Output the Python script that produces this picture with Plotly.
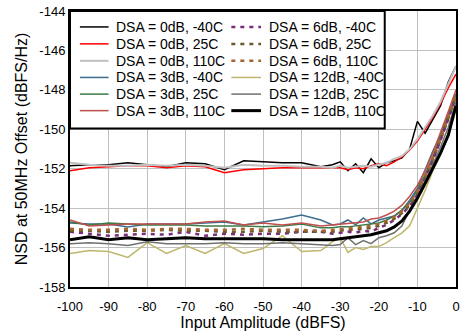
import plotly.graph_objects as go

x_dbfs = [-100, -95, -90, -85, -80, -75, -70, -65, -60, -55, -50, -45, -40, -35, -32,
          -30, -28, -26, -24, -22, -20, -18, -16, -14, -12, -10, -8, -6, -4, -2, 0]

dsa0_m40 = [-151.85, -151.8, -151.8, -151.7, -151.8, -151.9, -151.7, -151.75, -152.05, -151.6,
            -151.65, -151.7, -151.7, -151.9, -151.8, -151.65, -152.1, -151.75, -152.2, -151.5,
            -151.95, -151.7, -151.6, -151.45, -151.0, -149.6, -150.2, -149.5, -148.8, -147.6, -146.8]
dsa0_25 = [-152.1, -151.95, -151.9, -151.85, -151.85, -151.95, -151.85, -151.9, -152.2, -152.05,
           -152.0, -151.95, -151.95, -151.95, -151.95, -151.95, -152.05, -151.95, -152.0, -151.85,
           -151.75, -151.85, -151.65, -151.4, -151.05, -150.6, -150.0, -149.4, -148.7, -147.9, -147.2]
dsa0_110 = [-151.7, -151.8, -151.85, -151.85, -151.8, -151.85, -151.8, -151.85, -151.95, -151.8,
            -151.85, -151.85, -151.9, -151.9, -151.95, -151.85, -151.95, -151.9, -151.85, -151.9,
            -151.8, -151.7, -151.5, -151.35, -151.0, -150.5, -149.9, -149.3, -148.6, -147.7, -146.8]
dsa3_m40 = [-154.75, -154.8, -154.8, -154.95, -154.8, -154.8, -154.8, -154.75, -154.7, -154.85,
            -154.7, -154.55, -154.35, -154.6, -154.85, -154.8, -154.6, -154.85, -154.5, -154.8,
            -154.6, -154.5, -154.4, -154.1, -153.6, -153.0, -152.0, -151.1, -150.3, -149.3, -148.2]
dsa3_25 = [-154.7, -154.85, -154.75, -154.8, -154.85, -154.85, -154.85, -154.9, -154.9, -154.9,
           -154.95, -154.9, -154.8, -155.0, -155.0, -154.95, -154.95, -154.9, -154.85, -154.8,
           -154.75, -154.6, -154.4, -154.1, -153.7, -153.1, -152.3, -151.4, -150.4, -149.3, -148.2]
dsa3_110 = [-154.6, -154.9, -154.85, -154.8, -154.8, -154.8, -154.8, -154.7, -154.65, -154.85,
            -154.75, -154.85, -154.75, -154.9, -154.85, -154.8, -154.8, -154.75, -154.7, -154.55,
            -154.5, -154.35, -154.15, -153.85, -153.4, -152.85, -152.1, -151.2, -150.2, -149.1, -148.0]
dsa6_m40 = [-155.2, -155.3, -155.4, -155.35, -155.3, -155.35, -155.2, -155.4, -155.3, -155.35,
            -155.3, -155.3, -155.2, -155.2, -155.3, -155.25, -155.2, -155.25, -155.15, -155.2,
            -155.0, -154.85, -154.6, -154.3, -153.9, -153.3, -152.5, -151.6, -150.6, -149.5, -148.4]
dsa6_25 = [-155.15, -155.15, -155.2, -155.15, -155.15, -155.1, -155.15, -155.15, -155.2, -155.2,
           -155.15, -155.2, -155.2, -155.2, -155.2, -155.15, -155.1, -155.1, -155.05, -155.0,
           -154.9, -154.75, -154.55, -154.25, -153.85, -153.25, -152.45, -151.55, -150.55, -149.45, -148.35]
dsa6_110 = [-155.05, -155.1, -155.1, -155.05, -155.1, -155.05, -155.05, -155.1, -155.1, -155.05,
            -155.1, -155.1, -155.1, -155.15, -155.1, -155.1, -155.05, -155.0, -154.95, -154.9,
            -154.8, -154.65, -154.45, -154.15, -153.75, -153.15, -152.35, -151.45, -150.45, -149.35, -148.3]
dsa12_m40 = [-156.3, -156.15, -156.2, -156.5, -155.75, -156.3, -155.9, -156.3, -155.8, -156.3,
             -156.05, -155.4, -156.2, -156.15, -155.7, -155.5, -156.25, -156.0, -156.1, -155.95,
             -155.95, -155.75, -155.5, -155.25, -154.9, -154.0, -153.1, -152.1, -151.3, -150.2, -149.0]
dsa12_25 = [-155.8, -155.75, -155.8, -155.9, -155.7, -155.8, -155.8, -155.8, -155.75, -155.8,
            -155.8, -155.75, -155.8, -155.85, -155.9, -155.85, -155.5, -155.85, -155.65, -155.8,
            -155.5, -155.4, -155.25, -154.9, -154.1, -153.4, -152.6, -151.8, -150.9, -149.9, -148.6]
dsa12_110 = [-155.6, -155.45, -155.6, -155.5, -155.6, -155.55, -155.5, -155.55, -155.55, -155.55,
             -155.55, -155.6, -155.6, -155.6, -155.6, -155.55, -155.5, -155.45, -155.4, -155.35,
             -155.25, -155.15, -154.95, -154.65, -154.15, -153.5, -152.75, -152.0, -151.2, -150.3, -148.8]

series_names = ["DSA = 0dB, -40C", "DSA = 0dB, 25C", "DSA = 0dB, 110C",
                "DSA = 3dB, -40C", "DSA = 3dB, 25C", "DSA = 3dB, 110C",
                "DSA = 6dB, -40C", "DSA = 6dB, 25C", "DSA = 6dB, 110C",
                "DSA = 12dB, -40C", "DSA = 12dB, 25C", "DSA = 12dB, 110C"]
series_values = [dsa0_m40, dsa0_25, dsa0_110, dsa3_m40, dsa3_25, dsa3_110,
                 dsa6_m40, dsa6_25, dsa6_110, dsa12_m40, dsa12_25, dsa12_110]

x_ticks = [-100, -90, -80, -70, -60, -50, -40, -30, -20, -10, 0]
y_ticks = [-158, -156, -154, -152, -150, -148, -146, -144]

styles = [
    dict(color="#000000", width=1.5),
    dict(color="#ff0000", width=1.5),
    dict(color="#c0c0c0", width=2),
    dict(color="#3b6e8f", width=1.5),
    dict(color="#3d7a47", width=1.5),
    dict(color="#c0504d", width=1.5),
    dict(color="#7b2c7b", width=2.5, dash="4px,5px"),
    dict(color="#6b5a30", width=2.5, dash="4px,5px"),
    dict(color="#a8642e", width=2.5, dash="4px,5px"),
    dict(color="#bdb76b", width=1.5),
    dict(color="#707070", width=1.5),
    dict(color="#000000", width=3),
]

W, H = 464, 333
ML, MT = 70, 10
MR = W - 460
MB = H - 287
PW, PH = W - ML - MR, H - MT - MB

fig = go.Figure()
for name, vals, st in zip(series_names, series_values, styles):
    fig.add_trace(go.Scatter(x=x_dbfs, y=vals, mode="lines", name=name,
                             line=st, showlegend=False))

font = "Liberation Sans, Arial, sans-serif"


def px(xpage):
    return (xpage - ML) / PW


def py(ypage):
    return 1 - (ypage - MT) / PH


shapes = [dict(type="rect", xref="paper", yref="paper", x0=px(70), x1=px(388),
               y0=py(128), y1=py(10), fillcolor="white",
               line=dict(color="#000000", width=2), layer="above")]
annotations = []
row_y = [26, 43, 60, 76.7, 93.4, 110]
col_line = [(80, 109), (233, 263)]
col_text = [114, 269]
for i, (name, st) in enumerate(zip(series_names, styles)):
    col, row = divmod(i, 6)
    yc = row_y[row]
    ln = dict(color=st["color"], width=st["width"])
    if "dash" in st:
        ln["dash"] = st["dash"]
    shapes.append(dict(type="line", xref="paper", yref="paper",
                       x0=px(col_line[col][0]), x1=px(col_line[col][1]),
                       y0=py(yc), y1=py(yc), line=ln, layer="above"))
    annotations.append(dict(text=name, xref="paper", yref="paper",
                            x=px(col_text[col]), y=py(yc), xanchor="left",
                            yanchor="middle", showarrow=False,
                            font=dict(family=font, size=14, color="#000000")))

fig.update_layout(
    width=W, height=H,
    margin=dict(l=ML, r=MR, t=MT, b=MB),
    paper_bgcolor="white", plot_bgcolor="white",
    font=dict(family=font, size=13, color="#000000"),
    showlegend=False,
    shapes=shapes, annotations=annotations,
    xaxis=dict(range=[-100, 0], tickvals=x_ticks, ticktext=[str(v) for v in x_ticks],
               showgrid=True, gridcolor="#bfbfbf", gridwidth=1,
               showline=True, linecolor="#000000", linewidth=2, mirror=True,
               ticks="", zeroline=False, ticklabelstandoff=6,
               ticklabeloverflow="allow",
               title=dict(text="Input Amplitude (dBFS)", standoff=0)),
    yaxis=dict(range=[-158, -144], tickvals=y_ticks, ticktext=[str(v) for v in y_ticks],
               showgrid=True, gridcolor="#bfbfbf", gridwidth=1,
               showline=True, linecolor="#000000", linewidth=2, mirror=True,
               ticks="", zeroline=False, ticklabeloverflow="allow",
               title=dict(text="NSD at 50MHz Offset (dBFS/Hz)", standoff=8)),
)
# remove the default 8px page margin so the figure sits at the window's corner
fig.write_html("out.html", config={"displayModeBar": False},
               post_script="document.body.style.margin='0px';")
